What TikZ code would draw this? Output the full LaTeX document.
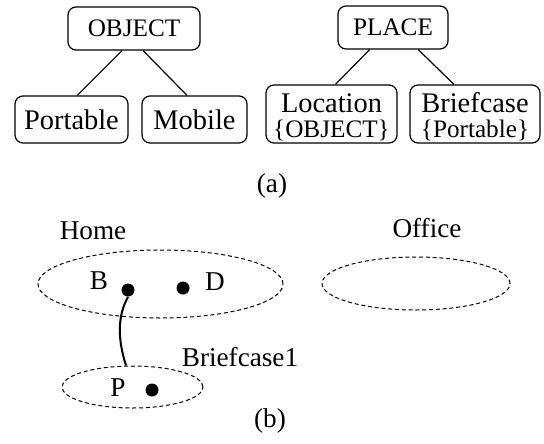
\documentclass[tikz,border=0pt]{standalone}
\usepackage{fontspec}
\setmainfont{Liberation Serif}
\usetikzlibrary{calc,shapes.geometric}
\begin{document}
\begin{tikzpicture}[x=0.5pt,y=-0.5pt,
  box/.style={draw,rounded corners=4pt,line width=0.6pt,inner sep=0pt,align=center},
  big/.style={font=\fontsize{14.2}{15}\selectfont},
  small/.style={font=\fontsize{12.6}{14}\selectfont},
  two/.style={align=center,inner sep=0pt,font=\fontsize{12.6}{12.6}\selectfont},
  lbl/.style={font=\fontsize{13.6}{15}\selectfont,inner sep=0pt},
  region/.style={draw,ellipse,dash pattern=on 2pt off 1.4pt,line width=0.5pt,inner sep=0pt},
  dot/.style={circle,fill,inner sep=0pt,minimum size=6.5pt},
  link/.style={line width=0.6pt}]
\useasboundingbox (0,0) rectangle (544,443);
% (a)
\node[box,small,minimum width=66pt,minimum height=21.5pt] (obj) at (134,28.5) {OBJECT};
\node[box,big,minimum width=56.5pt,minimum height=23.5pt] (port) at (71.5,119.5) {Portable};
\node[box,big,minimum width=52.5pt,minimum height=23.5pt] (mob) at (194.5,119.5) {Mobile};
\node[box,small,minimum width=55pt,minimum height=21.5pt] (place) at (393,27.5) {PLACE};
\node[box,minimum width=65.5pt,minimum height=29pt] (loc) at (331.5,114) {};
\node[box,minimum width=65pt,minimum height=29pt] (bcase) at (475,114) {};
\node[two] (loct) at ($(loc.center)+(0,3)$)
  {{\fontsize{14.2}{12.6}\selectfont Location}\\\{OBJECT\}};
\node[two] (bcaset) at ($(bcase.center)+(0,3)$)
  {{\fontsize{14.2}{12.6}\selectfont Briefcase}\\\{Portable\}};
\draw[link] ($(obj.south west)!0.41!(obj.south east)$) -- ($(port.north west)!0.55!(port.north east)$);
\draw[link] ($(obj.south west)!0.568!(obj.south east)$) -- ($(mob.north west)!0.43!(mob.north east)$);
\draw[link] ($(place.south west)!0.29!(place.south east)$) -- ($(loc.north west)!0.53!(loc.north east)$);
\draw[link] ($(place.south west)!0.727!(place.south east)$) -- ($(bcase.north west)!0.34!(bcase.north east)$);
\node[lbl] (capa) at (272,186) {(a)};
% (b)
\node[lbl] (home) at (93,231) {Home};
\node[lbl] (office) at (427,228) {Office};
\node[region,minimum width=122.5pt,minimum height=34pt] (homeR) at (160.5,284) {};
\node[region,minimum width=94pt,minimum height=26.5pt] (officeR) at (416,283.5) {};
\node[region,minimum width=70.5pt,minimum height=21pt] (bcR) at (132.5,387) {};
\node[lbl] (B) at (99,281) {B};
\node[lbl] (D) at (215,282) {D};
\node[lbl] (P) at (118,388) {P};
\node[dot] (bdot) at (128,290) {};
\node[dot] (ddot) at (183,288) {};
\node[dot] (pdot) at (152,390) {};
\node[lbl] (bc1) at (240,357) {Briefcase1};
\coordinate (cend) at ($(bcR.north)+(-6.5,0)$);
\draw[line width=1pt] (bdot.south) .. controls +(-10,18) and +(-9,-28) .. (cend);
\node[lbl] (capb) at (270,421) {(b)};
\end{tikzpicture}
\end{document}
